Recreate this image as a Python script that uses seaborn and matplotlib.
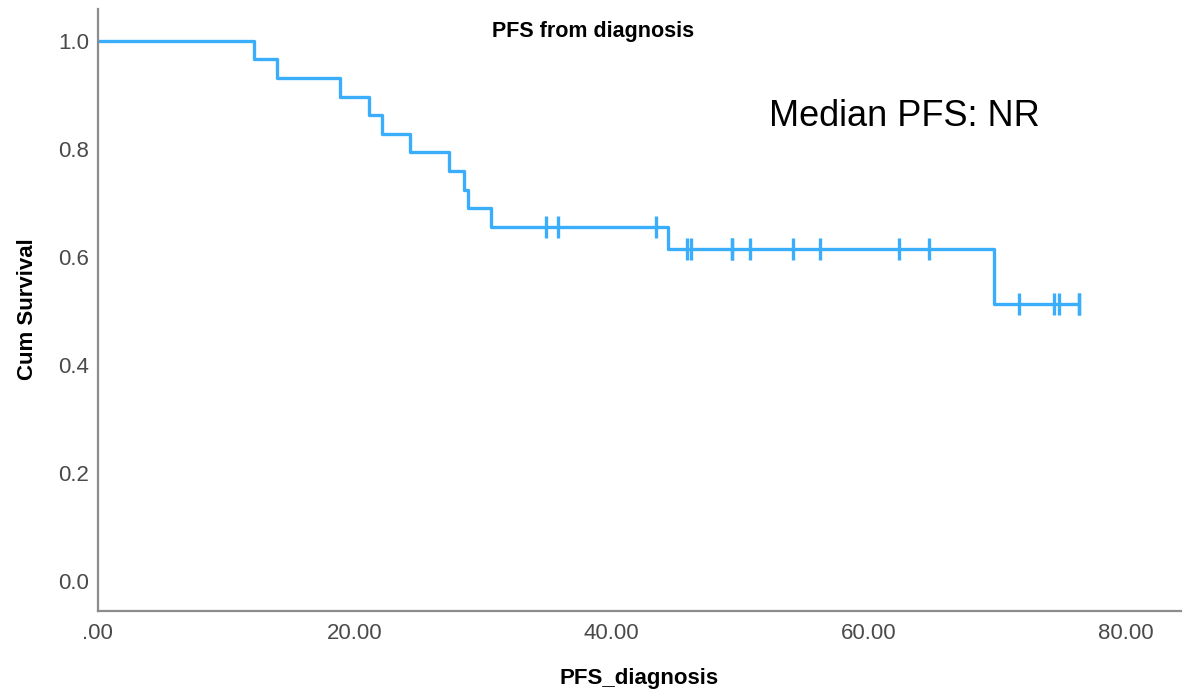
import numpy as np
import pandas as pd
import matplotlib
matplotlib.use("Agg")
import matplotlib.pyplot as plt
import seaborn as sns

# follow-up times (months) and event flag (1 = progression, 0 = censored)
pfs_months = [12.16, 13.95, 18.83, 21.11, 22.10, 24.28, 27.32, 28.48, 28.82, 30.64,
              34.92, 35.82, 43.48, 44.38,
              45.86, 46.20, 49.39, 49.39, 50.79, 54.06, 56.19, 62.36, 64.67,
              69.75, 71.70, 74.40, 74.79, 76.37, 76.37]
pfs_event = [1, 1, 1, 1, 1, 1, 1, 1, 1, 1,
             0, 0, 0, 1,
             0, 0, 0, 0, 0, 0, 0, 0, 0,
             1, 0, 0, 0, 0, 0]

x_ticks = [0, 20, 40, 60, 80]
x_tick_labels = [".00", "20.00", "40.00", "60.00", "80.00"]
y_ticks = [0.0, 0.2, 0.4, 0.6, 0.8, 1.0]
y_tick_labels = ["0.0", "0.2", "0.4", "0.6", "0.8", "1.0"]

line_colour = "#3aaefa"


def kaplan_meier(times, events):
    df = pd.DataFrame({"t": times, "e": events}).sort_values("t")
    n_at_risk = len(df)
    surv = 1.0
    step_t, step_s = [0.0], [1.0]
    cens_t, cens_s = [], []
    for t, grp in df.groupby("t", sort=True):
        d = grp["e"].sum()
        c = len(grp) - d
        if d > 0:
            surv *= 1 - d / n_at_risk
            step_t.append(t)
            step_s.append(surv)
        cens_t += [t] * c
        cens_s += [surv] * c
        n_at_risk -= len(grp)
    step_t.append(df["t"].max())
    step_s.append(surv)
    return (pd.DataFrame({"time": step_t, "survival": step_s}),
            pd.DataFrame({"time": cens_t, "survival": cens_s}))


steps, censored = kaplan_meier(pfs_months, pfs_event)

sns.set_theme(style="white")
plt.rcParams["font.family"] = ["Liberation Sans", "DejaVu Sans"]

fig = plt.figure(figsize=(11.91, 7), dpi=100)
ax = fig.add_axes([0.0819, 0.1276, 0.9097, 0.8591])

sns.lineplot(data=steps, x="time", y="survival", drawstyle="steps-post",
             estimator=None, color=line_colour, linewidth=2.4, ax=ax)
sns.scatterplot(data=censored, x="time", y="survival", marker="|", s=250,
                linewidth=2.4, color=line_colour, ax=ax, zorder=3)

ax.set_xlim(0, 84.28)
ax.set_ylim(-0.0555, 1.058)
ax.set_xticks(x_ticks)
ax.set_xticklabels(x_tick_labels)
ax.set_yticks(y_ticks)
ax.set_yticklabels(y_tick_labels)
ax.tick_params(length=0, labelsize=16, colors="#4a4a4a")
ax.tick_params(axis="x", pad=9)
ax.tick_params(axis="y", pad=6)

# SPSS-like axes: only left and bottom lines
for side in ["top", "right"]:
    ax.spines[side].set_visible(False)
for side in ["left", "bottom"]:
    ax.spines[side].set_color("#8c8c8c")
    ax.spines[side].set_linewidth(1.6)
ax.grid(False)

ax.set_xlabel("PFS_diagnosis", fontsize=16, fontweight="bold", color="black", va="center")
ax.xaxis.set_label_coords(0.4998, -0.1125)
ax.set_ylabel("Cum Survival", fontsize=16, fontweight="bold", color="black", va="center")
ax.yaxis.set_label_coords(-0.0646, 0.5017)

fig.text(0.4979, 0.9557, "PFS from diagnosis", fontsize=15.5, fontweight="bold",
         ha="center", va="center", color="black")
fig.text(0.759, 0.834, "Median PFS: NR", fontsize=26, ha="center", va="center",
         color="black")

fig.savefig("out.png", dpi=100)
